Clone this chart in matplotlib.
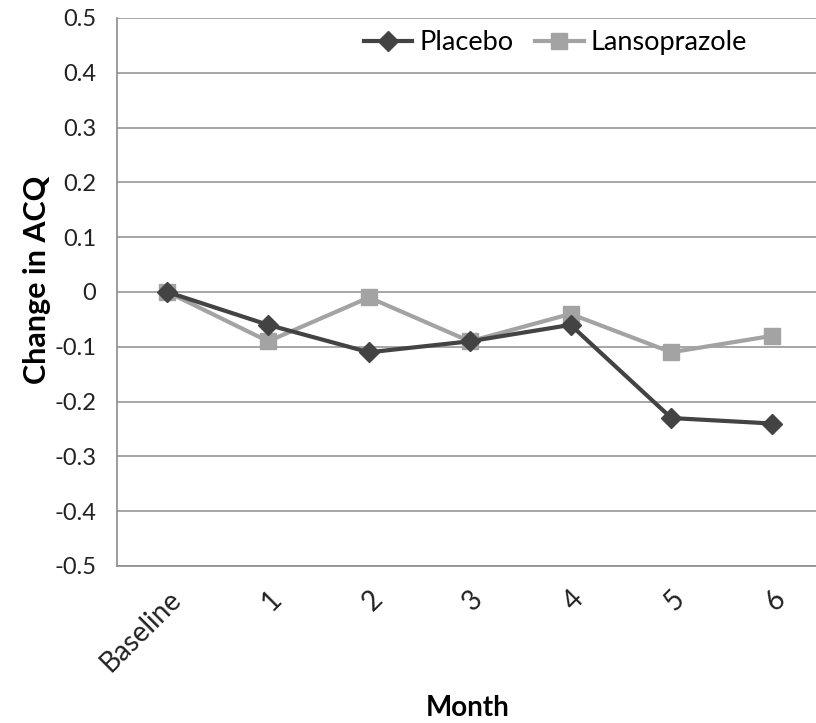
import matplotlib
matplotlib.use("Agg")
import matplotlib.pyplot as plt
import numpy as np

# data
months = ["Baseline", "1", "2", "3", "4", "5", "6"]
placebo = [0, -0.06, -0.11, -0.09, -0.06, -0.23, -0.24]
lansoprazole = [0, -0.09, -0.01, -0.09, -0.04, -0.11, -0.08]
y_ticks = [0.5, 0.4, 0.3, 0.2, 0.1, 0, -0.1, -0.2, -0.3, -0.4, -0.5]
y_tick_labels = ["0.5", "0.4", "0.3", "0.2", "0.1", "0", "-0.1", "-0.2", "-0.3", "-0.4", "-0.5"]

plt.rcParams['font.family'] = ['Lato', 'DejaVu Sans']

fig = plt.figure(figsize=(8.16, 7.23), dpi=100)
ax = fig.add_axes([117 / 816, 1 - 566 / 723, 1 - 117 / 816, (566 - 18) / 723])

x = np.arange(len(months))
ax.plot(x, placebo, color='#434343', lw=3, marker='D', ms=10, label='Placebo', zorder=3)
ax.plot(x, lansoprazole, color='#a3a3a3', lw=3, marker='s', ms=11, label='Lansoprazole', zorder=2)

ax.set_xlim(-0.5, 6.435)
ax.set_ylim(-0.5, 0.5)
ax.set_yticks(y_ticks)
ax.set_yticklabels(y_tick_labels, fontsize=17, color='#222222')
ax.set_xticks(x)
ax.set_xticklabels(months, fontsize=20, color='#222222', rotation=45,
                   ha='right', rotation_mode='anchor')
ax.tick_params(axis='both', length=0)
ax.tick_params(axis='y', pad=15)
ax.tick_params(axis='x', pad=14)

for yv in y_ticks:
    ax.axhline(yv, color='#a6a6a6', lw=1.4, zorder=1)

for side in ['top', 'right']:
    ax.spines[side].set_visible(False)
ax.spines['left'].set_color('#8c8c8c')
ax.spines['bottom'].set_color('#8c8c8c')
ax.spines['left'].set_linewidth(1.2)
ax.spines['bottom'].set_linewidth(1.2)

fig.text(0.045, 1 - 280 / 723, 'Change in ACQ', fontsize=22, fontweight='bold',
         rotation=90, ha='center', va='center')
fig.text(0.573, 1 - 708 / 723, 'Month', fontsize=20, fontweight='bold', ha='center', va='center')

ax.legend(loc='upper left', bbox_to_anchor=(0.318, 1.022), ncol=2, frameon=False,
          fontsize=19.5, handlelength=1.8, columnspacing=0.8, handletextpad=0.25)

fig.savefig('out.png', dpi=100)
